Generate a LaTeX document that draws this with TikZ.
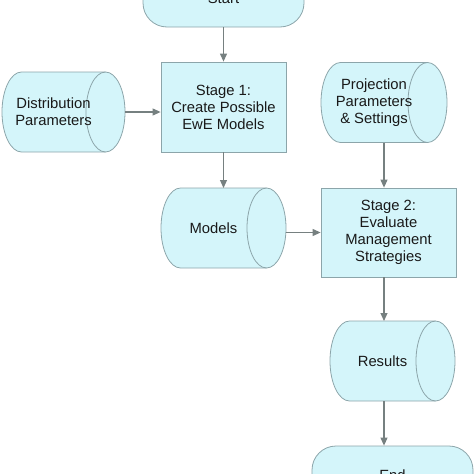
\documentclass[tikz,border=0pt]{standalone}
\usepackage{fontspec}
\setmainfont{Liberation Sans}
\usetikzlibrary{arrows.meta}
\definecolor{boxfill}{RGB}{212,245,250}
\definecolor{boxline}{RGB}{140,165,170}
\definecolor{arrowgray}{RGB}{118,128,128}
\newcommand{\storenode}[5]{%
  \node[storebox,minimum width=#4pt] (#1) at (#2,#3) {};
  \draw[storeline] ([xshift=-19.5pt]#1.north east) -- ([xshift=19.5pt]#1.north west)
    arc[start angle=90,end angle=270,x radius=19.5pt,y radius=40pt]
    -- ([xshift=-19.5pt]#1.south east)
    arc[start angle=-90,end angle=90,x radius=19.5pt,y radius=40pt] -- cycle;
  \draw[storeline,fill=none] ([xshift=-19.5pt]#1.north east)
    arc[start angle=90,end angle=270,x radius=19.5pt,y radius=40pt];
  \node (#1-text) at ([xshift=-10pt]#1.center) {#5};
}
\begin{document}
\begin{tikzpicture}[x=1pt,y=-1pt,
    every node/.style={font=\fontsize{14.8}{17}\selectfont,text=black!90,align=center},
    terminal/.style={draw=boxline,fill=boxfill,line width=0.8pt,rounded corners=24pt,minimum width=161pt,minimum height=58pt,inner sep=0pt},
    process/.style={draw=boxline,fill=boxfill,line width=0.8pt,rectangle,inner sep=0pt},
    storebox/.style={minimum height=80pt,inner sep=0pt,outer sep=0pt},
    storeline/.style={draw=boxline,fill=boxfill,line width=0.8pt},
    flow/.style={draw=arrowgray,line width=1.1pt,-{Triangle[length=8pt,width=7pt]}}]
  \useasboundingbox (0,0) rectangle (474,474);
  \clip (0,0) rectangle (474,474);
  \node[terminal] (start) at (223.5,-2) {Start};
  \node[process,minimum width=125pt,minimum height=90pt] (stage1) at (223.5,107) {Stage 1:\\Create Possible\\EwE Models};
  \storenode{distr}{63.5}{112}{123}{Distribution\\Parameters}
  \storenode{proj}{384}{102.5}{126}{Projection\\Parameters\\\& Settings}
  \storenode{models}{223.5}{228}{125}{Models}
  \node[process,minimum width=135pt,minimum height=89pt] (stage2) at (388.5,232.5) {Stage 2:\\Evaluate\\Management\\Strategies};
  \storenode{results}{392.5}{361}{125}{Results}
  \node[terminal] (end) at (392.5,475) {End};
  \draw[flow] (start.south) -- (start.south |- stage1.north);
  \draw[flow] (distr.east) -- (distr.east -| stage1.west);
  \draw[flow] (stage1.south) -- (stage1.south |- models.north);
  \draw[flow] (proj.south) -- (proj.south |- stage2.north);
  \draw[flow] (stage2.west -| models.east) -- (stage2.west);
  \draw[flow] (stage2.south -| proj.south) -- (proj.south |- results.north);
  \draw[flow] (results.south -| proj.south) -- (proj.south |- end.north);
\end{tikzpicture}
\end{document}
